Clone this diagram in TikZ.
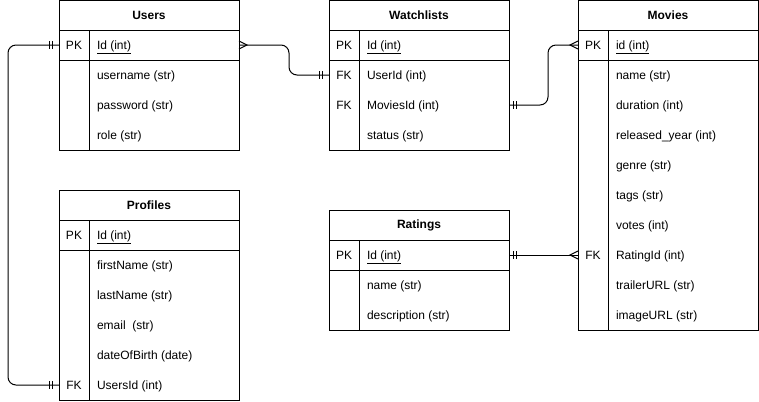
\documentclass[tikz,border=0pt]{standalone}
\usepackage{fontspec}
\setmainfont{Liberation Sans}
\usetikzlibrary{calc}

\begin{document}
\begin{tikzpicture}[x=1bp, y=-1bp, line width=1bp,
    every node/.style={inner sep=0pt, outer sep=0pt, font=\fontsize{12bp}{14bp}\selectfont},
    table/.style={draw, anchor=north west, minimum width=180bp},
    title/.style={font=\fontsize{12bp}{14bp}\selectfont\bfseries},
    key/.style={text height=8.6bp, text depth=0pt},
    field/.style={anchor=west, text height=8.6bp, text depth=0pt},
    link/.style={rounded corners=8bp}]
    \useasboundingbox (0,0) rectangle (759,401);

    % Users
    \node[table, minimum height=150bp] (users) at (59,0.5) {};
    \draw (59,30) -- (239,30) (59,60) -- (239,60) (89,30) -- (89,150.5);
    \node[title] (users-t) at (149,15) {Users};
    \node[key] (uid) at (74,45) {PK};
    \node[field] (uid-f) at (97,45) {\underline{Id (int)}};
    \node[field] (uname) at (97,75) {username (str)};
    \node[field] (upass) at (97,105) {password (str)};
    \node[field] (urole) at (97,135) {role (str)};

    % Watchlists
    \node[table, minimum height=150bp] (watch) at (329,0.5) {};
    \draw (329,30) -- (509,30) (329,60) -- (509,60) (359,30) -- (359,150.5);
    \node[title] (watch-t) at (419,15) {Watchlists};
    \node[key] (wid) at (344,45) {PK};
    \node[field] (wid-f) at (367,45) {\underline{Id (int)}};
    \node[key] (wuser) at (344,75) {FK};
    \node[field] (wuser-f) at (367,75) {UserId (int)};
    \node[key] (wmov) at (344,105) {FK};
    \node[field] (wmov-f) at (367,105) {MoviesId (int)};
    \node[field] (wstat) at (367,135) {status (str)};

    % Movies
    \node[table, minimum height=330bp] (movies) at (578,0.5) {};
    \draw (578,30) -- (758,30) (578,60) -- (758,60) (608,30) -- (608,330.5);
    \node[title] (movies-t) at (668,15) {Movies};
    \node[key] (mid) at (593,45) {PK};
    \node[field] (mid-f) at (616,45) {\underline{id (int)}};
    \node[field] (mname) at (616,75) {name (str)};
    \node[field] (mdur) at (616,105) {duration (int)};
    \node[field] (myear) at (616,135) {released\_year (int)};
    \node[field] (mgenre) at (616,165) {genre (str)};
    \node[field] (mtags) at (616,195) {tags (str)};
    \node[field] (mvotes) at (616,225) {votes (int)};
    \node[key] (mrat) at (593,255) {FK};
    \node[field] (mrat-f) at (616,255) {RatingId (int)};
    \node[field] (mtrail) at (616,285) {trailerURL (str)};
    \node[field] (mimg) at (616,315) {imageURL (str)};

    % Profiles
    \node[table, minimum height=210bp] (profiles) at (59,190) {};
    \draw (59,220) -- (239,220) (59,250) -- (239,250) (89,220) -- (89,400);
    \node[title] (profiles-t) at (149,205) {Profiles};
    \node[key] (pid) at (74,235) {PK};
    \node[field] (pid-f) at (97,235) {\underline{Id (int)}};
    \node[field] (pfirst) at (97,265) {firstName (str)};
    \node[field] (plast) at (97,295) {lastName (str)};
    \node[field] (pmail) at (97,325) {email\ \ (str)};
    \node[field] (pbirth) at (97,355) {dateOfBirth (date)};
    \node[key] (puid) at (74,385) {FK};
    \node[field] (puid-f) at (97,385) {UsersId (int)};

    % Ratings
    \node[table, minimum height=120bp] (ratings) at (329,210) {};
    \draw (329,240) -- (509,240) (329,270) -- (509,270) (359,240) -- (359,330);
    \node[title] (ratings-t) at (419,225) {Ratings};
    \node[key] (rid) at (344,255) {PK};
    \node[field] (rid-f) at (367,255) {\underline{Id (int)}};
    \node[field] (rname) at (367,285) {name (str)};
    \node[field] (rdesc) at (367,315) {description (str)};

    % Relations
    \draw[link] (users.west |- uid) -- (8,45) |- (profiles.west |- puid);
    \draw[link] (users.east |- uid) -- (289,45) |- (watch.west |- wuser);
    \draw[link] (watch.east |- wmov) -- (548,105) |- (movies.west |- mid);
    \draw (ratings.east |- rid) -- (movies.west |- mrat);

    % Mandatory one
    \foreach \dx in {7,10} {
        \draw ($(users.west |- uid)+(-\dx,-4)$) -- ++(0,8);
        \draw ($(profiles.west |- puid)+(-\dx,-4)$) -- ++(0,8);
        \draw ($(watch.west |- wuser)+(-\dx,-4)$) -- ++(0,8);
    }
    \foreach \dx in {4,7} {
        \draw ($(watch.east |- wmov)+(\dx,-4)$) -- ++(0,8);
        \draw ($(ratings.east |- rid)+(\dx,-4)$) -- ++(0,8);
    }

    % Many
    \draw ($(users.east |- uid)+(0,-4)$) -- ++(8,4) -- ++(-8,4);
    \draw ($(movies.west |- mid)+(0,-4)$) -- ++(-8,4) -- ++(8,4);
    \draw ($(movies.west |- mrat)+(0,-4)$) -- ++(-8,4) -- ++(8,4);
\end{tikzpicture}
\end{document}
